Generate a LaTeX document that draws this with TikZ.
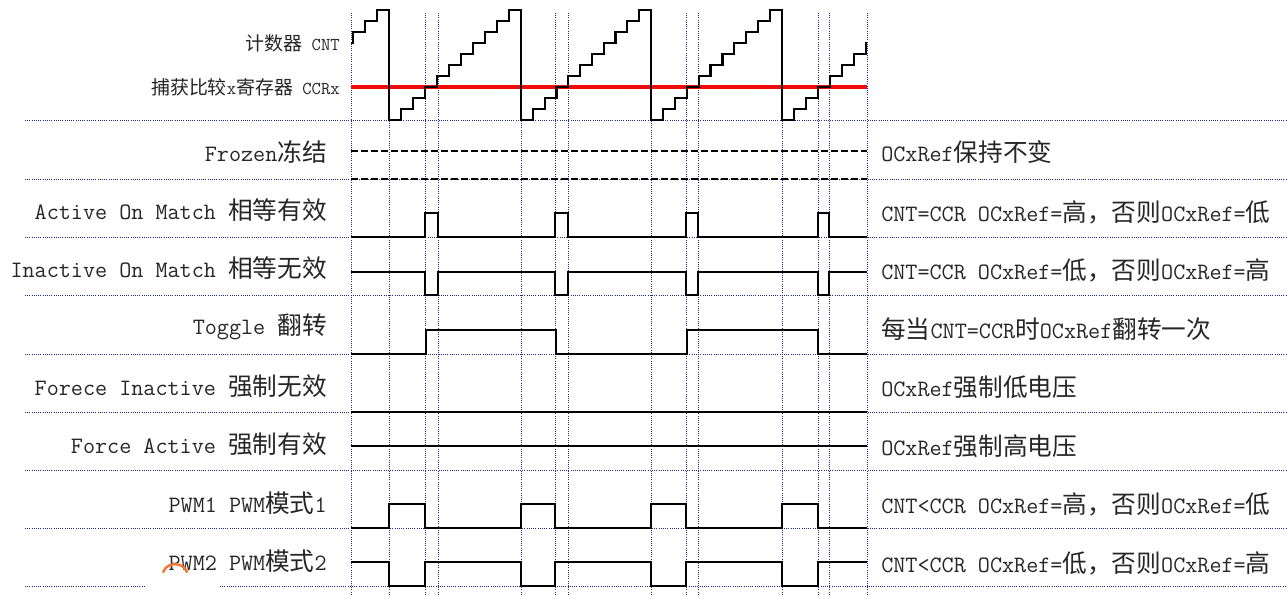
\documentclass[tikz,border=0pt]{standalone}
\usepackage{fontspec}
\newfontfamily\cjk{Noto Sans CJK SC}
\newcommand\zh[1]{{\cjk\fontsize{18.5}{20}\selectfont #1}}
\newcommand\zhs[1]{{\cjk\fontsize{14.2}{16}\selectfont #1}}
\definecolor{gridblue}{RGB}{40,40,140}
\definecolor{ccrred}{RGB}{240,10,10}
\definecolor{arcorange}{RGB}{240,120,48}
\tikzset{
  gridline/.style={draw=gridblue, line width=0.75pt, dash pattern=on 0.75pt off 0.9pt},
  wave/.style={draw=black, line width=1.6pt, line join=miter},
  frozenwave/.style={draw=black, line width=1.6pt, dash pattern=on 5.5pt off 2pt},
  lab/.style={font=\fontsize{17.6}{20}\selectfont\ttfamily, text=black!85, inner sep=0pt},
  toplab/.style={font=\fontsize{13.6}{16}\selectfont\ttfamily, text=black!85, inner sep=0pt},
}
\begin{document}
\begin{tikzpicture}[x=0.75pt,y=-0.75pt]
\useasboundingbox (0,0) rectangle (1287,594);
\fill[white] (0,0) rectangle (1287,594);

% grid: vertical dotted lines
\foreach \xx in {351,389,425,438,521,555,568,651,686,698,782,818,829,867}
  \draw[gridline] (\xx,13) -- (\xx,594);
% grid: horizontal dotted lines
\foreach \yy in {120,179,237,295,354,412,470,528}
  \draw[gridline] (25,\yy) -- (1287,\yy);
\draw[gridline] (25,586) -- (145,586);
\draw[gridline] (220,586) -- (1287,586);

% CCR level
\draw[ccrred, line width=3pt] (351,87) -- (867,87);

% counter sawtooth
\draw[wave] (351,43) -- (353,43) -- (353,32) -- (365,32) -- (365,21) -- (377,21) -- (377,10) -- (389,10) -- (389,120)
  \foreach \xa/\xb in {389/521,521/651,651/782} {
    \foreach \k in {0,...,9} {
      -- ({\xa+(\k+1)*(\xb-\xa)/11}, {120-11*\k}) -- ({\xa+(\k+1)*(\xb-\xa)/11}, {120-11*(\k+1)})
    } -- (\xb,10) -- (\xb,120)
  }
  \foreach \k in {0,...,6} {
    -- ({782+(\k+1)*12}, {120-11*\k}) -- ({782+(\k+1)*12}, {120-11*(\k+1)})
  } -- (867,43);

% Frozen
\draw[frozenwave] (351,151) -- (867,151);
\draw[frozenwave] (351,179) -- (867,179);

% Active on match
\draw[wave] (351,237) -- (425,237) -- (425,213) -- (438,213) -- (438,237) -- (555,237) -- (555,213) -- (568,213) -- (568,237)
  -- (686,237) -- (686,213) -- (698,213) -- (698,237) -- (818,237) -- (818,213) -- (829,213) -- (829,237) -- (867,237);

% Inactive on match
\draw[wave] (351,272) -- (425,272) -- (425,295) -- (438,295) -- (438,272) -- (555,272) -- (555,295) -- (568,295) -- (568,272)
  -- (686,272) -- (686,295) -- (698,295) -- (698,272) -- (818,272) -- (818,295) -- (829,295) -- (829,272) -- (867,272);

% Toggle
\draw[wave] (351,354) -- (426,354) -- (426,330) -- (556,330) -- (556,354) -- (687,354) -- (687,330) -- (818,330) -- (818,354) -- (867,354);

% Force inactive / active
\draw[wave] (351,412) -- (867,412);
\draw[wave] (351,446) -- (867,446);

% PWM1
\draw[wave] (351,528) -- (389,528) -- (389,504) -- (425,504) -- (425,528) -- (521,528) -- (521,504) -- (555,504) -- (555,528)
  -- (651,528) -- (651,504) -- (686,504) -- (686,528) -- (782,528) -- (782,504) -- (818,504) -- (818,528) -- (867,528);

% PWM2
\draw[wave] (351,562) -- (389,562) -- (389,586) -- (425,586) -- (425,562) -- (521,562) -- (521,586) -- (555,586) -- (555,562)
  -- (651,562) -- (651,586) -- (686,586) -- (686,562) -- (782,562) -- (782,586) -- (818,586) -- (818,562) -- (867,562);

% top labels
\node[toplab, anchor=east] (cntlab) at (340,43) {\zhs{计数器} CNT};
\node[toplab, anchor=east] (ccrlab) at (340,87) {\zhs{捕获比较}x\zhs{寄存器} CCRx};

% left labels
\node[lab, anchor=east] (l1) at (327,152) {Frozen\zh{冻结}};
\node[lab, anchor=east] (l2) at (327,210) {Active On Match \zh{相等有效}};
\node[lab, anchor=east] (l3) at (327,268) {Inactive On Match \zh{相等无效}};
\node[lab, anchor=east] (l4) at (327,327) {Toggle \zh{翻转}};
\node[lab, anchor=east] (l5) at (327,386) {Forece Inactive \zh{强制无效}};
\node[lab, anchor=east] (l6) at (327,444) {Force Active \zh{强制有效}};
\node[lab, anchor=east] (l7) at (327,503) {PWM1 PWM\zh{模式}1};
\node[lab, anchor=east] (l8) at (327,561) {PWM2 PWM\zh{模式}2};

% right labels
\node[lab, anchor=west] (r1) at (881,152) {OCxRef\zh{保持不变}};
\node[lab, anchor=west] (r2) at (881,212) {CNT=CCR OCxRef=\zh{高，否则}OCxRef=\zh{低}};
\node[lab, anchor=west] (r3) at (881,270) {CNT=CCR OCxRef=\zh{低，否则}OCxRef=\zh{高}};
\node[lab, anchor=west] (r4) at (881,329) {\zh{每当}CNT=CCR\zh{时}OCxRef\zh{翻转一次}};
\node[lab, anchor=west] (r5) at (881,387) {OCxRef\zh{强制低电压}};
\node[lab, anchor=west] (r6) at (881,446) {OCxRef\zh{强制高电压}};
\node[lab, anchor=west] (r7) at (881,504) {CNT<CCR OCxRef=\zh{高，否则}OCxRef=\zh{低}};
\node[lab, anchor=west] (r8) at (881,563) {CNT<CCR OCxRef=\zh{低，否则}OCxRef=\zh{高}};

% orange cursor arc
\draw[arcorange, line width=1.8pt] (175,577) ++(200:13) arc (200:340:13);
\end{tikzpicture}
\end{document}
